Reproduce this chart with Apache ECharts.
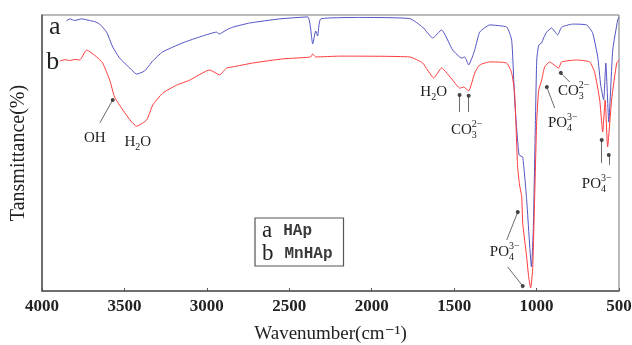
<!DOCTYPE html>
<html>
<head>
<meta charset="utf-8">
<script src="https://cdn.jsdelivr.net/npm/echarts@6/dist/echarts.min.js"></script>
<style>
html, body { margin: 0; padding: 0; background: #fff; }
#chart { width: 632px; height: 345px; }
</style>
</head>
<body>
<div id="chart"></div>
<script>
// spectrum a (HAp)
const hapWave = [3852, 3830, 3802, 3760, 3711, 3680, 3650, 3608, 3571, 3529, 3468, 3426, 3378, 3329, 3269, 3147, 3026, 2941, 2925, 2881, 2843, 2740, 2558, 2388, 2358, 2340, 2328, 2309, 2072, 1769, 1691, 1630, 1576, 1509, 1454, 1436, 1412, 1375, 1345, 1284, 1181, 1151, 1133, 1120, 1106, 1084, 1060, 1031, 1020, 1008, 999, 987, 969, 957, 939, 909, 872, 848, 781, 696, 660, 629, 611, 593, 580, 562, 538, 508, 500];
const hapT = [97.9, 98.6, 98.0, 98.6, 98.0, 97.6, 96.7, 93.8, 88.4, 84.4, 80.8, 78.6, 79.7, 83.3, 86.6, 89.9, 92.4, 93.8, 93.1, 94.6, 95.6, 97.1, 98.6, 99.3, 89.5, 94.2, 92.4, 98.6, 99.1, 98.7, 95.6, 91.7, 94.6, 87.3, 84.4, 84.8, 81.9, 87.3, 93.8, 96.4, 95.6, 90.9, 69.2, 58.3, 49.3, 48.5, 33.0, 8.7, 22.1, 58.3, 83.7, 89.1, 89.9, 91.7, 93.8, 95.3, 92.8, 95.6, 96.7, 96.4, 93.5, 84.8, 74.6, 69.2, 82.6, 61.2, 87.3, 98.2, 99.3];

// spectrum b (MnHAp)
const mnWave = [3893, 3860, 3832, 3800, 3771, 3729, 3668, 3632, 3589, 3560, 3510, 3456, 3426, 3365, 3328, 3268, 3183, 3104, 2983, 2923, 2880, 2843, 2722, 2540, 2370, 2358, 2340, 2194, 1769, 1691, 1624, 1576, 1509, 1466, 1442, 1412, 1375, 1345, 1284, 1181, 1151, 1133, 1115, 1103, 1090, 1084, 1060, 1048, 1036, 1024, 1012, 999, 987, 969, 951, 921, 866, 848, 757, 678, 648, 617, 599, 584, 569, 545, 514, 500];
const mnT = [83.3, 83.8, 83.5, 83.9, 83.7, 87.3, 84.8, 82.6, 76.4, 70.3, 65.6, 61.2, 59.7, 62.0, 67.4, 71.7, 74.6, 76.4, 80.1, 78.3, 80.8, 81.2, 82.6, 84.1, 84.8, 85.9, 84.8, 85.1, 84.8, 82.6, 77.2, 80.8, 76.4, 73.5, 73.9, 72.5, 79.0, 81.9, 83.0, 82.6, 79.0, 71.7, 44.9, 38.4, 34.1, 24.6, 12.3, 5.1, 1.1, 7.6, 33.0, 62.0, 72.8, 76.4, 81.2, 83.0, 80.8, 83.0, 83.7, 83.0, 79.3, 69.2, 57.6, 69.2, 52.2, 69.2, 82.6, 83.7];

const xTicks = [4000, 3500, 3000, 2500, 2000, 1500, 1000, 500];

// band labels: [text, subscript, superscript] pieces, placed at (wavenumber, T)
const bandLabels = [
    [['OH', '', '']],
    [['H', '2', ''], ['O', '', '']],
    [['H', '2', ''], ['O', '', '']],
    [['CO', '3', '2\u2212']],
    [['PO', '4', '3\u2212']],
    [['CO', '3', '2\u2212']],
    [['PO', '4', '3\u2212']],
    [['PO', '4', '3\u2212']],
];
const bandLabelWave = [3680, 3419, 1624, 1424, 841, 775, 635, 1193];
const bandLabelT = [55.4, 54.0, 72.1, 58.3, 60.9, 72.4, 38.8, 14.1];

// pointer lines: from -> to (dot end)
const arrowFrom = [[3649, 60.9], [1467, 64.9], [1412, 64.9], [890, 66.3], [799, 75.7], [605, 46.4], [562, 45.7], [1181, 18.5], [1175, 8.7]];
const arrowTo = [[3571, 69.2], [1467, 71.0], [1412, 70.7], [938, 73.9], [853, 79.0], [605, 54.7], [562, 49.3], [1114, 28.6], [1084, 1.8]];

// curve tags
const curveTags = ['a', 'b'];
const curveTagWave = [3923, 3935];
const curveTagT = [95.6, 83.0];

const SERIF = '"Liberation Serif", "DejaVu Serif", serif';
const chart = echarts.init(document.getElementById('chart'));

const pairs = (xs, ys) => xs.map((x, i) => [x, ys[i]]);

chart.setOption({
    animation: false,
    backgroundColor: '#fff',
    grid: {
        left: 42, right: 13, top: 15, bottom: 54,
        outerBoundsMode: 'none',
        show: true, borderColor: '#777', borderWidth: 1,
    },
    legend: {
        left: 255, top: 218,
        orient: 'vertical',
        icon: 'none',
        itemWidth: 0, itemHeight: 0, itemGap: 0,
        padding: [1, 11, 1, 2],
        borderColor: '#555', borderWidth: 1.2,
        selectedMode: false,
        data: ['HAp', 'MnHAp'],
        formatter: name => (name === 'HAp' ? '{k|a}' : '{k|b}') + '{v|' + name + '}',
        textStyle: {
            rich: {
                k: { fontFamily: SERIF, fontSize: 23, color: '#222', lineHeight: 20 },
                v: { fontFamily: '"Liberation Mono", monospace', fontWeight: 'bold', fontSize: 16, color: '#3a3a3a', lineHeight: 20, padding: [0, 0, 0, 11] },
            },
        },
    },
    xAxis: {
        type: 'value',
        inverse: true,
        min: 500, max: 4000, interval: 500,
        name: 'Wavenumber(cm\u207B\u00B9)',
        nameLocation: 'middle',
        nameGap: 34,
        nameTextStyle: { fontFamily: SERIF, fontSize: 19, color: '#222' },
        axisLine: { lineStyle: { color: '#555', width: 1.5 } },
        axisTick: { inside: true, length: 3, lineStyle: { color: '#555' } },
        axisLabel: {
            margin: 7,
            fontFamily: SERIF, fontWeight: 'bold', fontSize: 17, color: '#222',
            formatter: v => (xTicks.includes(v) ? String(v) : ''),
        },
        splitLine: { show: false },
    },
    yAxis: {
        type: 'value',
        min: 0, max: 100,
        name: 'Tansmittance(%)',
        nameLocation: 'middle',
        nameGap: 13,
        nameTextStyle: { fontFamily: SERIF, fontSize: 20, color: '#222' },
        axisLine: { show: true, lineStyle: { color: '#555', width: 1.5 } },
        axisTick: { show: false },
        axisLabel: { show: false },
        splitLine: { show: false },
    },
    series: [
        {
            name: 'HAp', type: 'line',
            data: pairs(hapWave, hapT),
            showSymbol: false, smooth: 0.15,
            lineStyle: { width: 1, color: '#5353c4' },
            itemStyle: { color: '#5353c4' },
        },
        {
            name: 'MnHAp', type: 'line',
            data: pairs(mnWave, mnT),
            showSymbol: false, smooth: 0.15,
            lineStyle: { width: 1, color: '#ff3c3c' },
            itemStyle: { color: '#ff3c3c' },
            markLine: {
                silent: true,
                symbol: ['none', 'circle'],
                symbolSize: 4,
                label: { show: false },
                lineStyle: { color: '#444', width: 0.8, type: 'solid' },
                data: arrowFrom.map((f, i) => [{ coord: f }, { coord: arrowTo[i] }]),
            },
        },
    ],
});

// measure text for subscript / superscript layout
const ctx = document.createElement('canvas').getContext('2d');
function textWidth(str, size) {
    ctx.font = size + 'px ' + SERIF;
    return ctx.measureText(str).width;
}

const MAIN = 15, SMALL = 10;
const graphics = [];

bandLabels.forEach((pieces, i) => {
    const [cx, cy] = chart.convertToPixel({ xAxisIndex: 0, yAxisIndex: 0 }, [bandLabelWave[i], bandLabelT[i]]);
    const widths = pieces.map(([t, sub, sup]) =>
        textWidth(t, MAIN) + Math.max(sub ? textWidth(sub, SMALL) : 0, sup ? textWidth(sup, SMALL) : 0));
    let x = cx - widths.reduce((a, b) => a + b, 0) / 2;
    pieces.forEach(([t, sub, sup], j) => {
        const base = { fill: '#222', fontFamily: SERIF, verticalAlign: 'middle', align: 'left' };
        graphics.push({ type: 'text', x, y: cy, silent: true, style: { ...base, text: t, fontSize: MAIN } });
        const sx = x + textWidth(t, MAIN);
        if (sub) graphics.push({ type: 'text', x: sx, y: cy + 5, silent: true, style: { ...base, text: sub, fontSize: SMALL } });
        if (sup) graphics.push({ type: 'text', x: sx, y: cy - 6, silent: true, style: { ...base, text: sup, fontSize: SMALL } });
        x += widths[j];
    });
});

curveTags.forEach((tag, i) => {
    const [cx, cy] = chart.convertToPixel({ xAxisIndex: 0, yAxisIndex: 0 }, [curveTagWave[i], curveTagT[i]]);
    graphics.push({
        type: 'text', x: cx, y: cy, silent: true,
        style: { text: tag, fill: '#222', fontFamily: SERIF, fontSize: 26, align: 'center', verticalAlign: 'middle' },
    });
});

chart.setOption({ graphic: graphics });
</script>
</body>
</html>
